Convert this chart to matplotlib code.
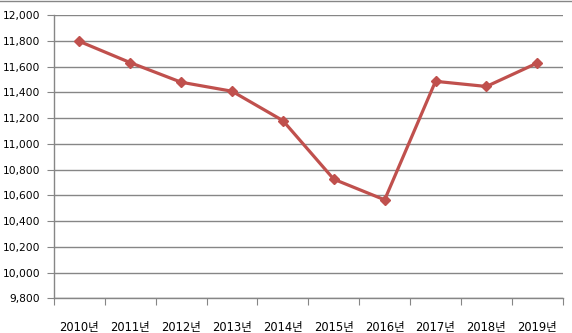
import matplotlib
matplotlib.use("Agg")
import matplotlib.pyplot as plt
from matplotlib.ticker import FuncFormatter, FixedLocator

plt.rcParams['font.family'] = ['DejaVu Sans', 'Noto Sans CJK KR']

years = ["2010년", "2011년", "2012년", "2013년", "2014년",
         "2015년", "2016년", "2017년", "2018년", "2019년"]
values = [11795, 11630, 11478, 11408, 11180, 10725, 10565, 11485, 11445, 11627]

fig = plt.figure(figsize=(5.72, 3.33), dpi=100)
ax = fig.add_axes([0.0944, 0.104, 0.8893, 0.851])

x = list(range(len(years)))
ax.plot(x, values, color="#C0504D", lw=2.3, marker="D", markersize=5.5,
        markeredgecolor="#C0504D", zorder=3)

ax.set_xlim(-0.5, len(years) - 0.5)
ax.set_ylim(9800, 12000)
ax.set_yticks(range(9800, 12001, 200))
ax.yaxis.set_major_formatter(FuncFormatter(lambda v, p: f"{int(v):,}"))
ax.grid(axis="y", color="#868686", lw=1)
ax.set_axisbelow(True)

# category boundaries as tick marks, labels in the middle
ax.xaxis.set_major_locator(FixedLocator([i - 0.5 for i in range(len(years) + 1)]))
ax.xaxis.set_minor_locator(FixedLocator(x))
ax.set_xticklabels([])
ax.set_xticklabels(years, minor=True)
ax.tick_params(axis="x", which="major", length=5, color="#868686", direction="out")
ax.tick_params(axis="x", which="minor", length=0, pad=16, labelsize=8.3)
ax.tick_params(axis="y", length=5, color="#868686", pad=5, labelsize=7.7)
ax.tick_params(which="both", labelcolor="black")

for s in ["top", "right"]:
    ax.spines[s].set_visible(False)
for s in ["left", "bottom"]:
    ax.spines[s].set_color("#868686")
    ax.spines[s].set_linewidth(1)

# chart area border at the top
fig.add_artist(plt.Line2D([0, 1], [0.998, 0.998], color="#868686", lw=1,
                          transform=fig.transFigure))

fig.savefig("out.png", dpi=100)
